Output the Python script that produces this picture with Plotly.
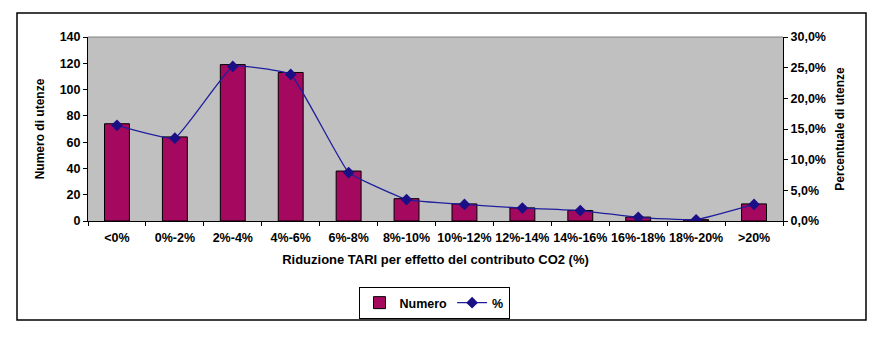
import plotly.graph_objects as go

# Classi di riduzione TARI
categorie = ["<0%", "0%-2%", "2%-4%", "4%-6%", "6%-8%", "8%-10%", "10%-12%",
             "12%-14%", "14%-16%", "16%-18%", "18%-20%", ">20%"]
# Numero di utenze per classe
numero = [74, 64, 119, 113, 38, 17, 13, 10, 8, 3, 1, 13]
# Percentuale di utenze per classe (frazione)
percentuale = [0.156, 0.135, 0.252, 0.239, 0.079, 0.035, 0.027, 0.021, 0.017,
               0.006, 0.002, 0.027]

W, H = 884, 339
L, R, T, B = 88, 783, 37, 221
pw, ph = R - L, B - T

def px(x):
    return (x - L) / pw

def py(y):
    return (B - y) / ph

FONT = "Liberation Sans, Arial, sans-serif"
tick_font = dict(family=FONT, size=12.5, color="black", weight="bold")
title_font = dict(family=FONT, size=12, color="black", weight="bold")

fig = go.Figure()
fig.add_trace(go.Bar(
    x=categorie, y=numero, name="Numero",
    marker=dict(color="#A5095F", line=dict(color="black", width=1)),
    yaxis="y",
))
fig.add_trace(go.Scatter(
    x=categorie, y=percentuale, name="%", yaxis="y2",
    mode="lines+markers",
    line=dict(color="#1F1F9E", width=1.3, shape="spline", smoothing=0.3),
    marker=dict(symbol="diamond", size=9, color="#1A0F85"),
))

fig.update_layout(
    width=W, height=H,
    margin=dict(l=L, r=W - R, t=T, b=H - B),
    paper_bgcolor="white", plot_bgcolor="#C0C0C0",
    separators=",.",
    bargap=0.57,
    font=dict(family=FONT, color="black"),
    xaxis=dict(
        type="category", range=[-0.5, len(categorie) - 0.5],
        tickson="boundaries", ticks="outside", ticklen=4,
        tickcolor="black", showline=True, linecolor="black", linewidth=1,
        showgrid=False, tickfont=tick_font, zeroline=False, tickangle=0,
        ticklabelstandoff=5,
        title=dict(text="Riduzione TARI per effetto del contributo CO2 (%)",
                   font=dict(family=FONT, size=13, color="black", weight="bold"),
                   standoff=10),
    ),
    yaxis=dict(
        range=[0, 140], dtick=20, ticks="outside", ticklen=4, tickcolor="black",
        showline=True, linecolor="black", linewidth=1, showgrid=False,
        zeroline=False, tickfont=tick_font,
        title=dict(text="Numero di utenze", font=title_font, standoff=12),
    ),
    yaxis2=dict(
        overlaying="y", side="right", range=[0, 0.30], dtick=0.05,
        tickformat=".1%", ticks="outside", ticklen=4, tickcolor="black",
        showline=True, linecolor="black", linewidth=1, showgrid=False,
        zeroline=False, tickfont=tick_font,
        title=dict(text="Percentuale di utenze", font=title_font, standoff=10),
    ),
    legend=dict(
        orientation="h", x=px(434), y=py(303), xanchor="center", yanchor="middle",
        bordercolor="black", borderwidth=1, bgcolor="white",
        font=dict(family=FONT, size=12.5, weight="bold"),
        itemwidth=30, tracegroupgap=0,
    ),
    shapes=[
        # bordo superiore dell'area del grafico
        dict(type="line", xref="paper", yref="paper", x0=0, x1=1, y0=1, y1=1,
             line=dict(color="#808080", width=1)),
        # cornice esterna
        dict(type="rect", xref="paper", yref="paper",
             x0=px(17), x1=px(866), y0=py(320), y1=py(13),
             line=dict(color="black", width=1.5), layer="below"),
    ],
)

fig.write_html("out.html")
